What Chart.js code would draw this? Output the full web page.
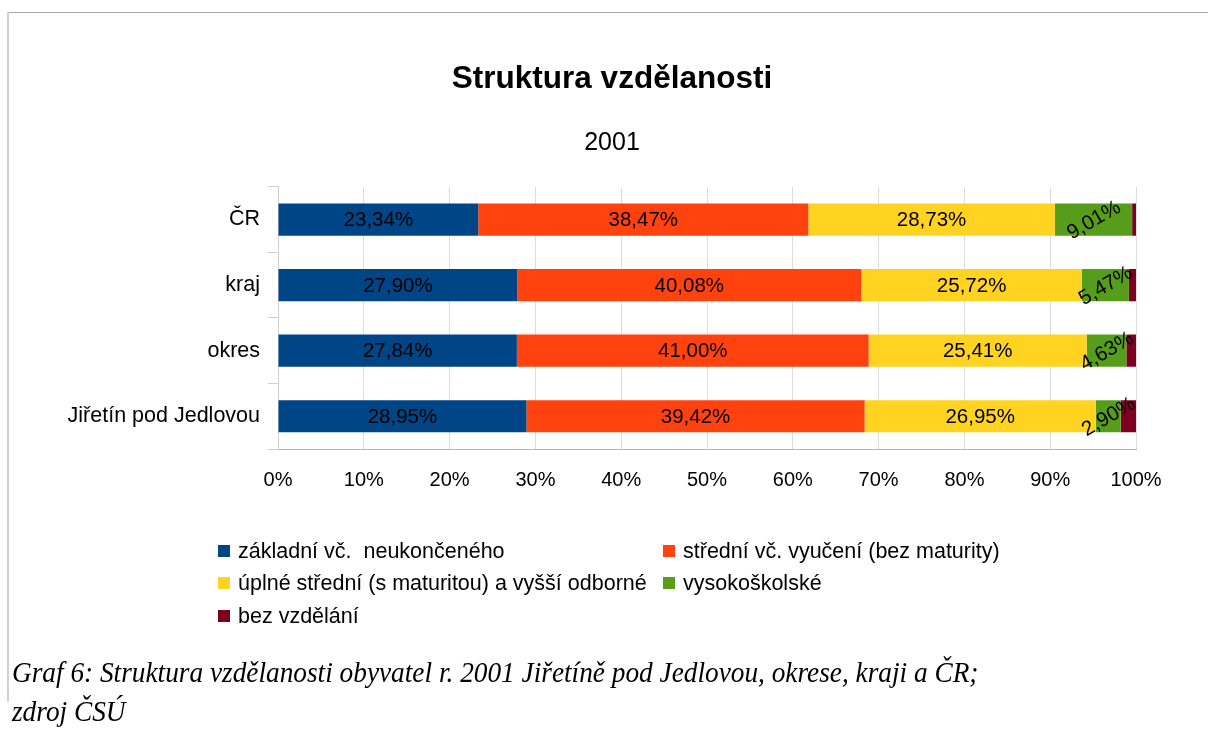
<!DOCTYPE html>
<html>
<head>
<meta charset="utf-8">
<script src="https://cdn.jsdelivr.net/npm/chart.js@4"></script>
<style>
  html, body { margin: 0; padding: 0; background: #fff; }
  body { width: 1208px; height: 729px; position: relative; overflow: hidden; font-family: "Liberation Sans", Arial, sans-serif; }
  #frameTop { position: absolute; left: 8px; top: 12px; width: 1200px; height: 1px; background: #a8a8a8; }
  #frameLeft { position: absolute; left: 7px; top: 12px; width: 2px; height: 690px; background: #d2d2d2; }
  #chartBox { position: absolute; left: 0; top: 0; width: 1208px; height: 520px; }
  #legend { position: absolute; left: 0; top: 0; width: 1208px; height: 729px; pointer-events: none; }
  .legend-item { position: absolute; font-size: 21.5px; color: #000; white-space: pre; line-height: 24px; }
  .legend-box { position: absolute; width: 12px; height: 12px; left: -20px; top: 6px; }
  #caption { position: absolute; left: 12px; top: 652px; font-family: "Liberation Serif", "Times New Roman", serif; font-style: italic; font-size: 30px; line-height: 39px; color: #000; white-space: pre; transform: scaleX(0.91); transform-origin: left top; }
</style>
</head>
<body>
<div id="frameTop"></div>
<div id="frameLeft"></div>
<div id="chartBox"><canvas id="eduChart"></canvas></div>
<div id="legend"></div>
<div id="caption">Graf 6: Struktura vzdělanosti obyvatel r. 2001 Jiřetíně pod Jedlovou, okrese, kraji a ČR;
zdroj ČSÚ</div>

<script>
// categories (top to bottom)
const regions = ["ČR", "kraj", "okres", "Jiřetín pod Jedlovou"];

// share of population by education level, in %
const zakladni = [23.34, 27.90, 27.84, 28.95];
const stredniVyuceni = [38.47, 40.08, 41.00, 39.42];
const uplneStredni = [28.73, 25.72, 25.41, 26.95];
const vysokoskolske = [9.01, 5.47, 4.63, 2.90];
const bezVzdelani = [0.45, 0.83, 1.12, 1.78];

const seriesNames = [
  "základní vč.  neukončeného",
  "střední vč. vyučení (bez maturity)",
  "úplné střední (s maturitou) a vyšší odborné",
  "vysokoškolské",
  "bez vzdělání",
];
const seriesColors = ["#004586", "#ff420e", "#ffd320", "#579d1c", "#7e0021"];
const seriesData = [zakladni, stredniVyuceni, uplneStredni, vysokoskolske, bezVzdelani];

const xTicks = [0, 10, 20, 30, 40, 50, 60, 70, 80, 90, 100];

// values drawn inside the segments (last series has no labels)
const labelledSeries = [0, 1, 2, 3];
const rotatedSeries = 3;

function fmtPct(v) {
  return v.toFixed(2).replace(".", ",") + "%";
}

const barLabels = {
  id: "barLabels",
  afterDatasetsDraw(chart) {
    const ctx = chart.ctx;
    ctx.save();
    ctx.font = '20.5px "Liberation Sans", Arial, sans-serif';
    ctx.fillStyle = "#000";
    ctx.textAlign = "center";
    ctx.textBaseline = "middle";
    labelledSeries.forEach((di) => {
      const meta = chart.getDatasetMeta(di);
      meta.data.forEach((bar, i) => {
        const value = chart.data.datasets[di].data[i];
        const cx = (bar.x + bar.base) / 2;
        const cy = bar.y;
        ctx.save();
        ctx.translate(cx, cy);
        if (di === rotatedSeries) ctx.rotate(-30 * Math.PI / 180);
        ctx.fillText(fmtPct(value), 0, 1);
        ctx.restore();
      });
    });
    ctx.restore();
  },
};

const font = (size, weight) => ({ family: '"Liberation Sans", Arial, sans-serif', size: size, weight: weight, lineHeight: 1.2 });

const ctx = document.getElementById("eduChart").getContext("2d");
new Chart(ctx, {
  type: "bar",
  data: {
    labels: regions,
    datasets: seriesData.map((data, i) => ({
      label: seriesNames[i],
      data: data,
      backgroundColor: seriesColors[i],
      borderWidth: 0,
      categoryPercentage: 1,
      barPercentage: 0.49,
    })),
  },
  options: {
    indexAxis: "y",
    responsive: true,
    maintainAspectRatio: false,
    animation: false,
    layout: { padding: { left: 16, right: 0, top: 0, bottom: 9 } },
    scales: {
      x: {
        stacked: true,
        min: 0,
        max: 100,
        afterBuildTicks: (scale) => {
          scale.ticks = xTicks.map((v) => ({ value: v }));
        },
        ticks: {
          callback: (v) => v + "%",
          color: "#000",
          font: font(20),
          padding: 19,
          maxRotation: 0,
        },
        grid: { color: "#dcdcdc", drawTicks: false },
        border: { color: "#b3b3b3" },
      },
      y: {
        stacked: true,
        afterFit: (scale) => { scale.width = 262; },
        ticks: {
          color: "#000",
          font: font(21.5),
          padding: 8,
        },
        grid: { offset: true, drawOnChartArea: false, drawTicks: true, tickLength: 10, color: "#cfcfcf" },
        border: { color: "#cfcfcf" },
      },
      // empty right-hand axis, only keeps room on the right of the plot
      yRight: {
        type: "category",
        position: "right",
        labels: regions,
        afterFit: (scale) => { scale.width = 72; },
        ticks: { display: false },
        grid: { display: false, drawTicks: false },
        border: { display: false },
      },
    },
    plugins: {
      legend: { display: false },
      tooltip: { enabled: false },
      title: {
        display: true,
        text: "Struktura vzdělanosti",
        color: "#000",
        font: font(31.5, "bold"),
        padding: { top: 60, bottom: 30 },
      },
      subtitle: {
        display: true,
        text: "2001",
        color: "#000",
        font: font(25),
        padding: { top: 0, bottom: 29 },
      },
    },
  },
  plugins: [barLabels],
});

// legend in two columns, built from the series arrays
const legendPos = [
  [238, 539], [683, 539],
  [238, 571], [683, 571],
  [238, 604],
];
const legendEl = document.getElementById("legend");
seriesNames.forEach((name, i) => {
  const item = document.createElement("div");
  item.className = "legend-item";
  item.style.left = legendPos[i][0] + "px";
  item.style.top = legendPos[i][1] + "px";
  item.textContent = name;
  const box = document.createElement("span");
  box.className = "legend-box";
  box.style.background = seriesColors[i];
  item.appendChild(box);
  legendEl.appendChild(item);
});
</script>
</body>
</html>
